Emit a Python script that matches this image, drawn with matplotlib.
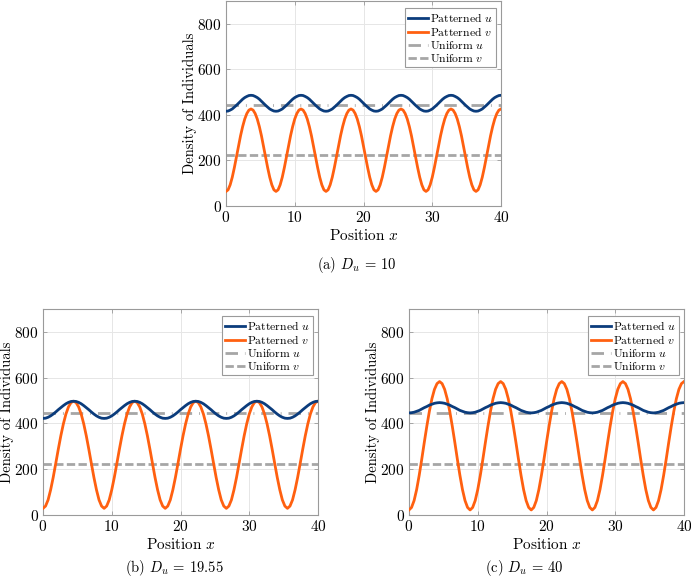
import numpy as np
import matplotlib
matplotlib.use("Agg")
import matplotlib.pyplot as plt

plt.rcParams['font.family'] = 'serif'
plt.rcParams['font.serif'] = ['cmr10', 'DejaVu Serif']
plt.rcParams['mathtext.fontset'] = 'cm'
plt.rcParams['axes.formatter.use_mathtext'] = True

# ---------------- data ----------------
x_a = np.linspace(0, 40, 133)
u_a = [416, 417, 421, 426, 434, 442, 451, 460, 469, 476, 481, 485, 486, 485, 481, 476, 469, 460, 451, 442, 434, 426, 421, 417,
       416, 417, 421, 426, 434, 442, 451, 460, 469, 476, 481, 485, 486, 485, 481, 476, 469, 460, 451, 442, 434, 426, 421, 417,
       416, 417, 421, 426, 434, 442, 451, 460, 469, 476, 481, 485, 486, 485, 481, 476, 469, 460, 451, 442, 434, 426, 421, 417,
       416, 417, 421, 426, 434, 442, 451, 460, 469, 476, 481, 485, 486, 485, 481, 476, 469, 460, 451, 442, 434, 426, 421, 417,
       416, 417, 421, 426, 434, 442, 451, 460, 469, 476, 481, 485, 486, 485, 481, 476, 469, 460, 451, 442, 434, 426, 421, 417,
       416, 417, 421, 426, 434, 442, 451, 460, 469, 476, 481, 485, 486]
v_a = [64, 71, 93, 126, 168, 215, 263, 309, 349, 382, 406, 421, 426, 421, 406, 382, 349, 309, 263, 215, 168, 126, 93, 71,
       64, 71, 93, 126, 168, 215, 263, 309, 349, 382, 406, 421, 426, 421, 406, 382, 349, 309, 263, 215, 168, 126, 93, 71,
       64, 71, 93, 126, 168, 215, 263, 309, 349, 382, 406, 421, 426, 421, 406, 382, 349, 309, 263, 215, 168, 126, 93, 71,
       64, 71, 93, 126, 168, 215, 263, 309, 349, 382, 406, 421, 426, 421, 406, 382, 349, 309, 263, 215, 168, 126, 93, 71,
       64, 71, 93, 126, 168, 215, 263, 309, 349, 382, 406, 421, 426, 421, 406, 382, 349, 309, 263, 215, 168, 126, 93, 71,
       64, 71, 93, 126, 168, 215, 263, 309, 349, 382, 406, 421, 426]

x_bc = np.linspace(0, 40, 109)
u_b = [422, 423, 427, 433, 441, 450, 460, 469, 478, 486, 492, 496, 497, 496, 492, 486, 478, 469, 460, 450, 441, 433, 427, 423,
       422, 423, 427, 433, 441, 450, 460, 469, 478, 486, 492, 496, 497, 496, 492, 486, 478, 469, 460, 450, 441, 433, 427, 423,
       422, 423, 427, 433, 441, 450, 460, 469, 478, 486, 492, 496, 497, 496, 492, 486, 478, 469, 460, 450, 441, 433, 427, 423,
       422, 423, 427, 433, 441, 450, 460, 469, 478, 486, 492, 496, 497, 496, 492, 486, 478, 469, 460, 450, 441, 433, 427, 423,
       422, 423, 427, 433, 441, 450, 460, 469, 478, 486, 492, 496, 497]
v_b = [29, 39, 66, 110, 164, 225, 287, 346, 398, 441, 472, 491, 497, 491, 472, 441, 398, 346, 287, 225, 164, 110, 66, 39,
       29, 39, 66, 110, 164, 225, 287, 346, 398, 441, 472, 491, 497, 491, 472, 441, 398, 346, 287, 225, 164, 110, 66, 39,
       29, 39, 66, 110, 164, 225, 287, 346, 398, 441, 472, 491, 497, 491, 472, 441, 398, 346, 287, 225, 164, 110, 66, 39,
       29, 39, 66, 110, 164, 225, 287, 346, 398, 441, 472, 491, 497, 491, 472, 441, 398, 346, 287, 225, 164, 110, 66, 39,
       29, 39, 66, 110, 164, 225, 287, 346, 398, 441, 472, 491, 497]
u_c = [446, 447, 449, 453, 457, 463, 469, 474, 480, 484, 488, 490, 491, 490, 488, 484, 480, 474, 469, 463, 457, 453, 449, 447,
       446, 447, 449, 453, 457, 463, 469, 474, 480, 484, 488, 490, 491, 490, 488, 484, 480, 474, 469, 463, 457, 453, 449, 447,
       446, 447, 449, 453, 457, 463, 469, 474, 480, 484, 488, 490, 491, 490, 488, 484, 480, 474, 469, 463, 457, 453, 449, 447,
       446, 447, 449, 453, 457, 463, 469, 474, 480, 484, 488, 490, 491, 490, 488, 484, 480, 474, 469, 463, 457, 453, 449, 447,
       446, 447, 449, 453, 457, 463, 469, 474, 480, 484, 488, 490, 491]
v_c = [22, 33, 63, 111, 173, 243, 317, 388, 453, 508, 549, 574, 583, 574, 549, 508, 453, 388, 317, 243, 173, 111, 63, 33,
       22, 33, 63, 111, 173, 243, 317, 388, 453, 508, 549, 574, 583, 574, 549, 508, 453, 388, 317, 243, 173, 111, 63, 33,
       22, 33, 63, 111, 173, 243, 317, 388, 453, 508, 549, 574, 583, 574, 549, 508, 453, 388, 317, 243, 173, 111, 63, 33,
       22, 33, 63, 111, 173, 243, 317, 388, 453, 508, 549, 574, 583, 574, 549, 508, 453, 388, 317, 243, 173, 111, 63, 33,
       22, 33, 63, 111, 173, 243, 317, 388, 453, 508, 549, 574, 583]

uniform_u = 444
uniform_v = 222

captions = [r'(a) $D_u$ = 10', r'(b) $D_u$ = 19.55', r'(c) $D_u$ = 40']
x_ticks = [0, 10, 20, 30, 40]
y_ticks = [0, 200, 400, 600, 800]

# ---------------- styles ----------------
C_U = '#0b3c7c'
C_V = '#ff6010'
C_G = '#a6a6a6'
FRAME = '#9a9a9a'
FW, FH = 691, 577

fig = plt.figure(figsize=(FW / 100, FH / 100), dpi=100)
W = 275 / FW
rects = [
    (226 / FW, 1 - 206 / FH, W, 205 / FH),
    (43 / FW, 1 - 515 / FH, W, 206 / FH),
    (409 / FW, 1 - 515 / FH, W, 206 / FH),
]
cap_pos = [(357, 265), (174, 568), (524, 568)]
series = [(x_a, u_a, v_a), (x_bc, u_b, v_b), (x_bc, u_c, v_c)]

for rect, (xs, us, vs), cap, cp in zip(rects, series, captions, cap_pos):
    ax = fig.add_axes(rect)
    ax.plot(xs, us, color=C_U, lw=2.0, label=r'Patterned $u$', zorder=4)
    ax.plot(xs, vs, color=C_V, lw=2.0, label=r'Patterned $v$', zorder=3)
    ax.axhline(uniform_u, color=C_G, lw=2.0, linestyle=(0, (4.5, 2.5, 0.3, 2.5)),
               label=r'Uniform $u$', zorder=2)
    ax.axhline(uniform_v, color=C_G, lw=2.0, linestyle=(0, (3.0, 1.2)),
               label=r'Uniform $v$', zorder=2)
    ax.set_xlim(0, 40)
    ax.set_ylim(0, 900)
    ax.set_xticks(x_ticks)
    ax.set_yticks(y_ticks)
    ax.grid(True, color='#e6e6e6', lw=0.7)
    ax.set_axisbelow(True)
    for s in ax.spines.values():
        s.set_color(FRAME)
        s.set_linewidth(0.8)
    ax.tick_params(direction='in', length=3, width=0.6, color=FRAME,
                   labelsize=11, pad=3, top=True, right=True)
    ax.set_xlabel(r'Position $x$', fontsize=11, labelpad=2)
    ax.set_ylabel('Density of Individuals', fontsize=10.5)
    ax.yaxis.set_label_coords(-0.107, 0.5)
    wpx = rect[2] * FW
    hpx = rect[3] * FH
    leg = ax.legend(loc='upper right', fontsize=8.4, handlelength=1.75,
                    handletextpad=0.15, borderpad=0.25, labelspacing=0.1,
                    fancybox=False, framealpha=1, borderaxespad=0,
                    bbox_to_anchor=(1 - 5 / wpx, 1 - 7 / hpx))
    leg.get_frame().set_edgecolor(FRAME)
    leg.get_frame().set_linewidth(0.8)
    fig.text(cp[0] / FW, 1 - cp[1] / FH, cap, ha='center', va='center',
             fontsize=10.5)

fig.savefig('out.png', dpi=100)
